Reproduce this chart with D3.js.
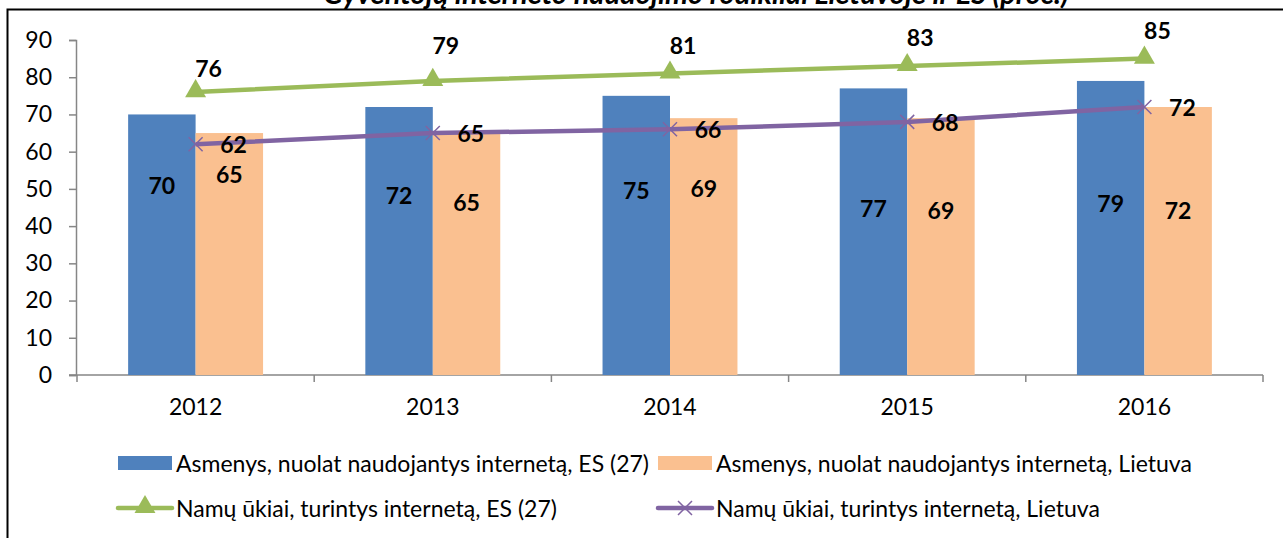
<!DOCTYPE html>
<html>
<head>
<meta charset="utf-8">
<script src="https://cdn.jsdelivr.net/npm/d3@7"></script>
<style>
  body { margin: 0; background: #fff; }
  svg { display: block; font-family: Lato, "Open Sans", sans-serif; }
</style>
</head>
<body>
<div id="chart"></div>
<script>
// Data
const years = ["2012", "2013", "2014", "2015", "2016"];
const euUsers = [70, 72, 75, 77, 79];
const ltUsers = [65, 65, 69, 69, 72];
const euHouseholds = [76, 79, 81, 83, 85];
const ltHouseholds = [62, 65, 66, 68, 72];
const yTicks = [0, 10, 20, 30, 40, 50, 60, 70, 80, 90];

// where the data labels sit, in value units
const euUsersLabelAt = [51, 48.4, 49.7, 44.9, 46.2];
const ltUsersLabelAt = [54, 46.5, 50.3, 44.4, 44.4];
const euHouseholdsLabelAt = [82.5, 88.7, 88.7, 90.9, 92.7];

const seriesNames = [
  "Asmenys, nuolat naudojantys internetą, ES (27)",
  "Asmenys, nuolat naudojantys internetą, Lietuva",
  "Namų ūkiai, turintys internetą, ES (27)",
  "Namų ūkiai, turintys internetą, Lietuva"
];
const title = "Gyventojų interneto naudojimo rodikliai Lietuvoje ir ES (proc.)";

const width = 1283;
const height = 538;
const blue = "#4F81BD", orange = "#FAC090", green = "#9BBB59", purple = "#8064A2";
const axisGrey = "#868686";

const svg = d3.select("#chart")
  .append("svg")
  .attr("width", width)
  .attr("height", height);

// chart frame
svg.append("rect")
  .attr("x", 7.5).attr("y", 9.5)
  .attr("width", 1290).attr("height", 540)
  .attr("fill", "none")
  .attr("stroke", "#000")
  .attr("stroke-width", 2);

// title sits mostly above the frame, as in the original
svg.append("text")
  .attr("x", 696).attr("y", 4)
  .attr("text-anchor", "middle")
  .style("font-size", "29px")
  .style("font-weight", "bold")
  .style("font-style", "italic")
  .text(title);

// Scales
const x = d3.scaleBand().domain(years).range([77, 1263]);
const inner = d3.scaleBand().domain(["eu", "lt"]).range([0, x.bandwidth()])
  .paddingInner(0).paddingOuter(0.758);
const y = d3.scaleLinear().domain([0, 90]).range([375, 40]);

// Y axis
const yAxis = svg.append("g")
  .attr("transform", "translate(76,0)")
  .call(d3.axisLeft(y).tickValues(yTicks).tickSize(7).tickPadding(17));
yAxis.select(".domain").attr("stroke", axisGrey).attr("stroke-width", 1.5);
yAxis.selectAll(".tick line").attr("stroke", axisGrey).attr("stroke-width", 1.5);
yAxis.selectAll("text")
  .style("font-size", "23px")
  .style("font-family", "Lato")
  .attr("fill", "#000");

// X axis
const xAxis = svg.append("g")
  .attr("transform", `translate(0,${y(0)})`)
  .call(d3.axisBottom(x).tickSize(0).tickPadding(24));
xAxis.select(".domain").remove();
xAxis.selectAll("text")
  .style("font-size", "23px")
  .style("font-family", "Lato")
  .attr("fill", "#000");
xAxis.append("line")
  .attr("x1", 69).attr("x2", x.range()[1])
  .attr("stroke", axisGrey).attr("stroke-width", 1.5);
const boundaries = years.map(d => x(d)).concat([x.range()[1]]);
xAxis.selectAll(".bound")
  .data(boundaries)
  .join("line")
  .attr("class", "bound")
  .attr("x1", d => d).attr("x2", d => d)
  .attr("y1", 0).attr("y2", 7)
  .attr("stroke", axisGrey).attr("stroke-width", 1.5);

// Bars
const barSeries = [
  { key: "eu", values: euUsers, color: blue, labelAt: euUsersLabelAt },
  { key: "lt", values: ltUsers, color: orange, labelAt: ltUsersLabelAt }
];
barSeries.forEach(s => {
  svg.append("g")
    .selectAll("rect")
    .data(s.values)
    .join("rect")
    .attr("x", (d, i) => x(years[i]) + inner(s.key))
    .attr("y", d => y(d))
    .attr("width", inner.bandwidth())
    .attr("height", d => y(0) - y(d))
    .attr("fill", s.color);
});

// Lines
const xMid = i => x(years[i]) + x.bandwidth() / 2;
const line = d3.line().x((d, i) => xMid(i)).y(d => y(d));

svg.append("path")
  .datum(euHouseholds)
  .attr("d", line)
  .attr("fill", "none")
  .attr("stroke", green)
  .attr("stroke-width", 4.5);

svg.append("path")
  .datum(ltHouseholds)
  .attr("d", line)
  .attr("fill", "none")
  .attr("stroke", purple)
  .attr("stroke-width", 4.5);

const triangle = d3.symbol().type(d3.symbolTriangle).size(190);
svg.append("g")
  .selectAll("path")
  .data(euHouseholds)
  .join("path")
  .attr("transform", (d, i) => `translate(${xMid(i)},${y(d) - 1})`)
  .attr("d", triangle)
  .attr("fill", green);

const cross = "M-7,-7L7,7M-7,7L7,-7";
svg.append("g")
  .selectAll("path")
  .data(ltHouseholds)
  .join("path")
  .attr("transform", (d, i) => `translate(${xMid(i)},${y(d)})`)
  .attr("d", cross)
  .attr("fill", "none")
  .attr("stroke", purple)
  .attr("stroke-width", 1.5);

// Data labels
const labels = svg.append("g")
  .style("font-size", "23px")
  .style("font-weight", "bold")
  .attr("fill", "#000")
  .attr("text-anchor", "middle")
  .attr("dominant-baseline", "central");

barSeries.forEach(s => {
  labels.append("g")
    .selectAll("text")
    .data(s.values)
    .join("text")
    .attr("x", (d, i) => x(years[i]) + inner(s.key) + inner.bandwidth() / 2)
    .attr("y", (d, i) => y(s.labelAt[i]))
    .text(d => d);
});

labels.append("g")
  .selectAll("text")
  .data(euHouseholds)
  .join("text")
  .attr("x", (d, i) => xMid(i) + 13)
  .attr("y", (d, i) => y(euHouseholdsLabelAt[i]))
  .text(d => d);

labels.append("g")
  .selectAll("text")
  .data(ltHouseholds)
  .join("text")
  .attr("x", (d, i) => xMid(i) + 38)
  .attr("y", d => y(d))
  .text(d => d);

// Legend
const legendItems = [
  { name: seriesNames[0], type: "bar", color: blue, x: 118, y: 463 },
  { name: seriesNames[1], type: "bar", color: orange, x: 658, y: 463 },
  { name: seriesNames[2], type: "triangle", color: green, x: 118, y: 508 },
  { name: seriesNames[3], type: "cross", color: purple, x: 658, y: 508 }
];

const legend = svg.append("g").attr("class", "legend");
legendItems.forEach(item => {
  const g = legend.append("g").attr("transform", `translate(${item.x},${item.y})`);
  if (item.type === "bar") {
    g.append("rect")
      .attr("x", 0).attr("y", -7)
      .attr("width", 54).attr("height", 14)
      .attr("fill", item.color);
  } else {
    g.append("line")
      .attr("x1", 0).attr("x2", 54)
      .attr("stroke", item.color)
      .attr("stroke-width", 4.5)
      .attr("stroke-linecap", "round");
    if (item.type === "triangle") {
      g.append("path")
        .attr("transform", "translate(27,-1)")
        .attr("d", triangle)
        .attr("fill", item.color);
    } else {
      g.append("path")
        .attr("transform", "translate(27,0)")
        .attr("d", cross)
        .attr("fill", "none")
        .attr("stroke", item.color)
        .attr("stroke-width", 1.5);
    }
  }
  g.append("text")
    .attr("x", 58)
    .attr("dominant-baseline", "central")
    .style("font-size", "23px")
    .attr("fill", "#000")
    .text(item.name);
});
</script>
</body>
</html>
